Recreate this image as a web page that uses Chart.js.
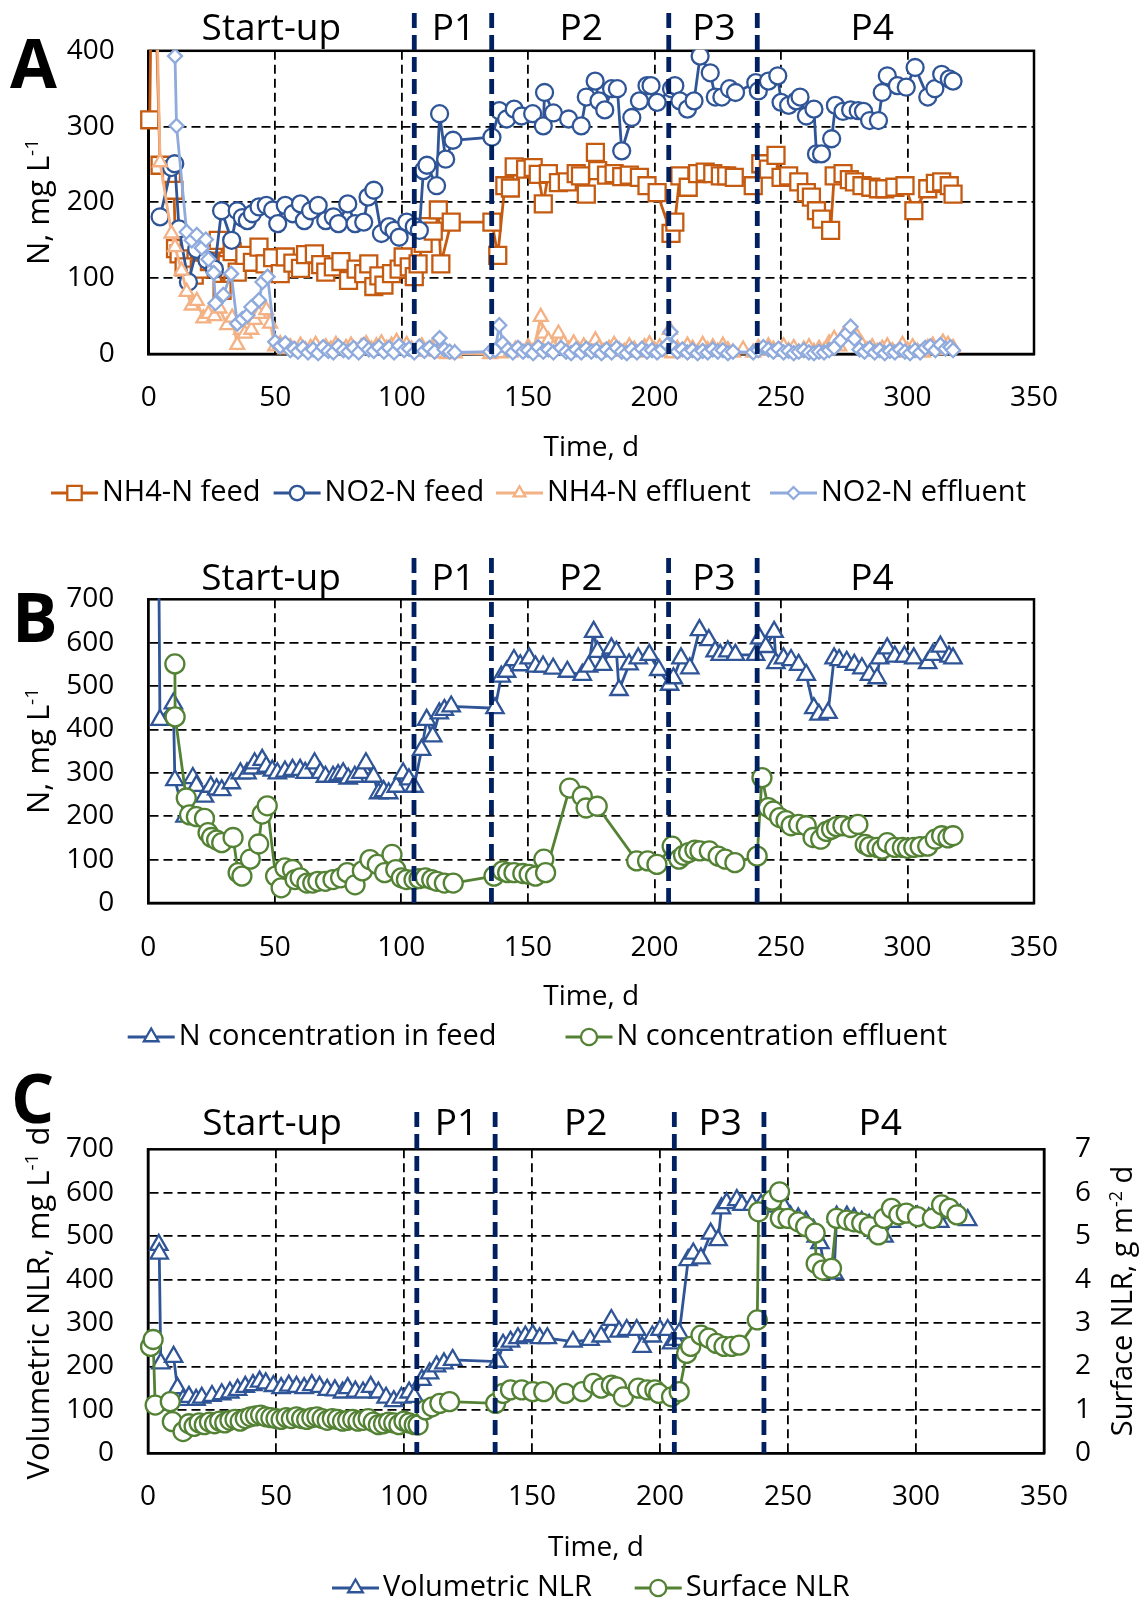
<!DOCTYPE html>
<html lang="en">
<head>
<meta charset="UTF-8">
<title>Nitrogen removal – reactor phases</title>
<script src="https://cdn.jsdelivr.net/npm/chart.js@4.4.1/dist/chart.umd.min.js"></script>
<style>
  html, body { margin: 0; padding: 0; background: #fff; }
  body { width: 1144px; height: 1602px; position: relative; overflow: hidden; }
  canvas { position: absolute; left: 0; }
  #chartA { top: 0; }
  #chartB { top: 530px; }
  #chartC { top: 1060px; }
</style>
</head>
<body>
<canvas id="chartA" width="1144" height="530"></canvas>
<canvas id="chartB" width="1144" height="530"></canvas>
<canvas id="chartC" width="1144" height="542"></canvas>
<script>
// ---- data: [day, value] ----
// A: N species, mg N/L
const nh4Feed = [[0.4,309],[1.5,620],[4.5,249],[9,238],[10,216],[10.6,139],[12,132],[14,115],[16,148],[18,104],[20,112],[22,136],[24,122],[25.5,145],[27.5,150],[29,84],[31,118],[33,135],[35,108],[38,130],[41,121],[43.6,141],[46,119],[49,127],[52,106],[54,128],[57,120],[60,113],[62,131],[65.5,132],[68,118],[70,108],[73,115],[76,122],[79,97],[82,112],[85,106],[87,119],[89,89],[91,103],[93,91],[96,106],[99,112],[100.6,128],[103,115],[105,102],[106.5,119],[108.5,146],[110.5,168],[112.5,162],[114.5,190],[115.5,119],[119.6,174],[135.7,174],[138,130],[140.8,222],[143,219],[144.5,247],[149,244],[152,246],[154,237],[156,198],[158,238],[162,226],[165.5,227],[169,238],[170.7,235],[173,211],[176.6,266],[177.5,242],[181,236],[184,238],[187,234],[190,236],[194,233],[197,222],[201,213],[206.5,159],[208,174],[210,235],[213.3,220],[217,238],[220,240],[223,238],[226,235],[228.5,235],[231.5,233],[239,222],[242,251],[245,244],[248,262],[250,233],[253,235],[257,227],[260,213],[262,207],[264,189],[266,178],[269.6,163],[271,235],[274.5,238],[277,230],[279,227],[282,222],[285.5,220],[288.5,218],[291,218],[295,220],[299,222],[302.5,189],[308,218],[311,225],[313.5,227],[316.5,222],[318,211]];
const no2Feed = [[4.5,181],[9,246],[10.3,251],[12,165],[15.7,95],[19,138],[23,124],[26,112],[28.8,189],[32.8,150],[35,189],[37,180],[39,176],[41,185],[43.6,194],[46.5,196],[49,190],[51,172],[54,196],[57,185],[60,198],[61.5,176],[64,189],[67,196],[70,176],[73,181],[75,172],[78.7,198],[81.6,172],[85,174],[86.7,207],[89,216],[92,159],[95,168],[97,163],[99,154],[102,174],[105,168],[107,163],[108.6,242],[110,249],[113.8,222],[115,317],[117.4,257],[120.3,282],[135.7,286],[138.6,321],[141.5,310],[144.5,323],[147.4,314],[151.8,317],[156,301],[156.5,345],[160,318],[166,310],[171,301],[173,339],[176.5,360],[178,334],[180.3,322],[183,350],[185.3,350],[187,268],[191,312],[194,334],[197,354],[198.6,354],[201,332],[206.7,350],[208,354],[210,334],[213,323],[215.6,334],[218,393],[222,371],[224,339],[226.6,339],[229.6,350],[232,345],[240,358],[241,347],[245,360],[248.7,367],[250,332],[253,328],[256,334],[257.5,339],[260,314],[263,323],[264,264],[266,264],[270,284],[271.5,328],[274.5,320],[277.5,322],[280.5,321],[282.6,320],[285,308],[288.5,308],[290,345],[292,367],[296,354],[299.5,352],[303,378],[308,339],[310.8,350],[313.5,369],[316.5,363],[318,360]];
const nh4Eff = [[3,480],[4.5,253],[9,159],[10.4,141],[13,110],[15,82],[17,64],[19,70],[21.6,47],[23.6,53],[26,50],[28,60],[31,38],[33,48],[35,12],[36.5,32],[38,27],[40.6,32],[42,45],[43.6,53],[46.5,58],[48,40],[50,10],[52,13],[54,6],[56,9],[58,4],[60,11],[62,5],[64,8],[66,12],[68,4],[70,9],[72,6],[74,12],[76,5],[78,8],[80,11],[82,4],[84,9],[86,13],[88,6],[90,10],[92,14],[94,7],[96,11],[98,16],[100,8],[102,12],[104,6],[106,3],[108,10],[110,4],[112,8],[114,3],[116,1],[118,0],[121,1],[135,0],[137,3],[139,1],[141,8],[143,2],[145,6],[147,4],[150,9],[152,3],[155,49],[156,27],[158,18],[160,8],[162,27],[164,14],[166,6],[168,14],[170,5],[172,10],[174,4],[176.6,18],[178,8],[180,3],[182,7],[184,12],[186,5],[188,3],[190,10],[192,6],[194,2],[196,9],[198,13],[200,5],[202,9],[204,3],[206,32],[207,1],[209,7],[211,3],[213,11],[215,7],[217,2],[219,12],[221,5],[223,9],[225,3],[227,11],[229,5],[231,2],[235,6],[239,2],[241,8],[243,4],[245,10],[247,6],[249,3],[251,10],[253,4],[255,8],[257,2],[259,6],[261,9],[263,3],[265,7],[267,4],[269,14],[271,20],[273,10],[275,26],[277.5,34],[280,23],[282,12],[284,5],[286,9],[288,3],[290,7],[292,10],[294,4],[296,2],[298,12],[300,5],[302,9],[304,3],[306,2],[308,8],[310,11],[312,5],[314,15],[316,12],[318,8]];
const no2Eff = [[10.4,393],[11,301],[15,161],[17,150],[19,157],[21,140],[22.6,151],[23.6,125],[25.7,107],[26.4,67],[29.5,78],[32.6,106],[35,40],[37,46],[39,51],[40.6,62],[43.6,71],[45,95],[47,102],[50,16],[52,10],[54,14],[56,5],[57.5,7],[59,3],[61,8],[63,2],[65,6],[67,1],[69,9],[71,4],[73,2],[75,10],[77,5],[79,3],[81,8],[83,2],[85,12],[87,6],[89,4],[91,9],[93,3],[95,8],[97,2],[99,11],[101,5],[103,7],[105,2],[107,10],[109,4],[111,8],[113,3],[115,21],[117,6],[119,3],[121,2],[135,3],[137,5],[138.6,38],[140,14],[142,6],[144,2],[146,8],[148,3],[150,5],[152,1],[154,9],[156,3],[158,6],[160,2],[163,8],[165,3],[167,1],[169,6],[171,2],[173,7],[175,3],[177,5],[179,1],[181,6],[183,2],[185,8],[187,3],[189,1],[191,6],[193,2],[195,7],[197,3],[199,5],[201,2],[203,6],[205,12],[206.3,29],[207.5,8],[209,3],[211,6],[213,2],[215,5],[217,1],[219,4],[221,2],[223,6],[225,3],[227,5],[229,1],[231,3],[239,2],[241,5],[243,9],[245,6],[247,3],[249,7],[251,2],[253,4],[255,1],[257,3],[259,5],[261,2],[263,1],[265,3],[267,2],[269,5],[271,8],[273.6,18],[276,27],[277.5,36],[279,20],[281,6],[283,3],[285,7],[287,2],[289,5],[291,1],[293,4],[295,2],[297,6],[299,3],[301,1],[303,5],[305,2],[307,8],[309,10],[311,5],[313,12],[315,7],[317,9],[318,5]];

// B: total N, mg N/L
const nFeed = [[4,900],[4.6,422],[9.9,460],[10.5,283],[14.5,199],[17.6,288],[19,270],[22.2,245],[24.7,268],[27,262],[29,260],[32.8,276],[36.4,299],[39,299],[41,310],[42,322],[45,330],[46.6,314],[49,305],[51,299],[54,303],[57,307],[60,307],[62,300],[65.7,322],[68,300],[70,291],[73,291],[75,295],[77,299],[79,287],[81.6,291],[84,300],[86,322],[89,291],[91,253],[93,258],[95,253],[98,268],[100.7,299],[103,285],[105,268],[108,353],[110,422],[112.4,384],[115,437],[117,445],[119.7,453],[137,449],[139.5,522],[141.6,533],[144.5,560],[147,548],[150.5,564],[153,545],[156,545],[160,540],[165.6,533],[171.5,526],[174,545],[176,625],[177.5,579],[179.6,549],[183,587],[185,579],[186,491],[190,550],[193.6,564],[198,572],[201.7,537],[206,503],[207.5,518],[210.5,564],[214,541],[217.8,629],[221.5,606],[224,580],[226,572],[229,580],[232,572],[240,572],[241.6,610],[244,590],[247.3,625],[248,553],[251,564],[254,560],[257,549],[260,526],[263,449],[265,434],[268.6,438],[271,564],[273,560],[276,556],[279,549],[282,541],[285,526],[288,518],[289,564],[292,587],[295,568],[298.8,568],[302.5,564],[308,553],[310,572],[313,591],[316.4,568],[318,564]];
const nEff = [[10.5,551],[10.6,429],[15,242],[16.3,203],[19,199],[22.2,195],[23.6,162],[25,151],[27,145],[29,139],[33.5,151],[35.5,70],[37,62],[40.3,101],[43.6,136],[45,205],[47,224],[50.3,62],[52.5,35],[54,81],[57,77],[58,54],[60,58],[62.7,46],[65,46],[67,50],[70,50],[73,54],[76,58],[78.6,70],[81.7,42],[84.6,74],[87.6,100],[90.5,89],[93.4,70],[96.3,112],[97.8,77],[100,58],[102,54],[105,54],[107,56],[109.5,58],[112,54],[114,50],[117,46],[120.5,46],[136.6,62],[140,74],[142,70],[144.5,70],[148,68],[150.5,66],[153,62],[156.3,101],[157,70],[166.5,265],[171.5,246],[173,219],[177.4,223],[193,97],[197.3,97],[201,89],[207,131],[209.7,101],[211.5,110],[213.5,116],[216,122],[218,120],[221.7,120],[225.2,108],[228,101],[231.8,93],[240.6,108],[242.5,289],[245,220],[247,212],[249.5,197],[252,190],[254,178],[257,181],[260,178],[262.7,151],[265.7,147],[268,165],[270,170],[272,176],[274.5,178],[277.5,174],[280.4,181],[283.3,135],[285,130],[288,128],[290,124],[292,139],[295,128],[298,128],[300,126],[302.5,128],[305,130],[308,131],[311,147],[313.5,155],[316,150],[318,155]];

// C: nitrogen loading rates
const volNLR = [[4.2,480],[4.4,460],[5,207],[10,222],[11.5,150],[13.7,123],[16,130],[18.8,123],[21,128],[25,132],[28.8,136],[32,140],[35,146],[38,153],[41,157],[43.6,165],[46,161],[49,155],[52,150],[55,156],[58,153],[61,150],[64,157],[67,153],[70,146],[73,145],[76,140],[78,150],[81,142],[84,140],[87,153],[90,140],[93,128],[96,120],[99,128],[102,140],[104,130],[107,169],[110,184],[112.7,200],[115.6,207],[119,215],[136.6,211],[138.7,250],[141.6,257],[144.5,265],[147.4,269],[150.3,272],[153,265],[156,265],[166,257],[172.7,261],[177,269],[181,307],[184,280],[187,284],[190.9,284],[193,245],[197,269],[200,284],[203,284],[204.5,253],[206,261],[207.5,276],[211,445],[213,460],[216,449],[219.8,506],[222.7,491],[224,564],[226,576],[230,583],[232,572],[236,572],[239.5,572],[242.4,568],[245.3,587],[248,572],[251,545],[254,541],[257,533],[260,514],[261,499],[262.5,484],[264.6,418],[268,414],[269,545],[273,545],[275.8,541],[278.8,533],[281.7,526],[284.6,507],[287.5,499],[290.4,533],[293.3,545],[296.2,545],[300.6,545],[305,541],[309.3,533],[313,553],[317.3,549],[320.2,537]];
const surfNLR = [[1,2.46],[2,2.62],[2.8,1.11],[8.7,1.19],[9.5,0.73],[13.7,0.50],[16,0.68],[18,0.62],[20,0.70],[22,0.66],[24,0.72],[26,0.68],[28,0.74],[30,0.70],[32,0.76],[34,0.78],[36,0.74],[38,0.80],[40,0.84],[42,0.86],[44,0.88],[46,0.84],[48,0.82],[50,0.80],[52,0.78],[54,0.82],[56,0.80],[58,0.84],[60,0.80],[62,0.78],[64,0.82],[66,0.84],[68,0.80],[70,0.76],[72,0.80],[74,0.78],[76,0.74],[78,0.76],[80,0.78],[82,0.74],[84,0.76],[86,0.80],[88,0.72],[90,0.66],[92,0.68],[94,0.72],[96,0.70],[98,0.66],[100,0.74],[102,0.70],[104,0.66],[105.5,0.65],[108.4,1.0],[111,1.07],[114,1.15],[117.8,1.19],[135.8,1.15],[138.7,1.38],[141.6,1.46],[146,1.46],[150.3,1.42],[154.6,1.42],[163,1.38],[169.7,1.42],[174,1.61],[177,1.50],[181,1.57],[183,1.53],[185.7,1.30],[191.5,1.50],[195,1.46],[198,1.46],[199.5,1.38],[204.5,1.30],[207.5,1.42],[210.4,2.30],[212,2.46],[216,2.72],[219,2.65],[222,2.53],[225,2.46],[228,2.46],[231,2.49],[238,3.07],[238.5,5.56],[243.8,5.83],[246.7,6.02],[247,5.41],[250,5.41],[254,5.33],[256.9,5.22],[260.6,5.07],[261,4.37],[263.5,4.22],[267,4.26],[269,5.41],[273,5.37],[275.8,5.33],[278.8,5.30],[281.7,5.22],[285.3,5.03],[287.5,5.41],[290.4,5.64],[293.3,5.49],[296.2,5.53],[300.6,5.45],[306.4,5.41],[310,5.72],[313,5.64],[316,5.49]];

// operating phases
const phaseBounds = [105, 135.6, 205.6, 240.6];
const phaseNames = ['Start-up', 'P1', 'P2', 'P3', 'P4'];
const phaseCentres = [48.5, 120.5, 171, 223.5, 286];

const ORANGE = '#C55A11', BLUE = '#2F5597', LIGHT_ORANGE = '#F4B183',
      LIGHT_BLUE = '#8FAADC', GREEN = '#548235', NAVY = '#002060';
const FONT = '"Open Sans", sans-serif';

Chart.defaults.font.family = FONT;
Chart.defaults.color = '#000';

function series(label, pairs, color, style, radius, order, extra) {
  return Object.assign({
    label: label,
    data: pairs.map(p => ({x: p[0], y: p[1]})),
    showLine: true,
    order: order,
    borderColor: color,
    backgroundColor: '#fff',
    borderWidth: 2.8,
    pointStyle: style,
    pointRadius: radius,
    pointHoverRadius: radius,
    pointBorderColor: color,
    pointBackgroundColor: '#fff',
    pointBorderWidth: 2.3,
    clip: {left: 14, right: 14, top: 1, bottom: 14}
  }, extra || {});
}

function gridColor(max) {
  return c => (c.tick && c.tick.value > 0 && c.tick.value < max) ? '#000' : 'rgba(0,0,0,0)';
}

function xAxis(p) {
  return {
    type: 'linear', min: 0, max: 350,
    ticks: {stepSize: 50, padding: p.xTickPad, font: {size: 28}, maxRotation: 0, autoSkip: false},
    grid: {drawTicks: false, lineWidth: 1.8, color: gridColor(350)},
    border: {display: true, color: '#000', width: 2.5, dash: [9, 5]},
    title: {display: true, text: 'Time, d', font: {size: 28}, padding: {top: 0, bottom: p.xTitlePad}},
    afterFit: s => { s.height = p.xHeight; }
  };
}

function yAxis(max, step, width, position, showGrid) {
  return {
    type: 'linear', position: position, min: 0, max: max,
    ticks: {stepSize: step, padding: position === 'right' ? 31 : 34, font: {size: 28}},
    grid: {drawTicks: false, lineWidth: 1.8, color: gridColor(max), drawOnChartArea: showGrid},
    border: {display: true, color: '#000', width: 2.5, dash: [9, 5]},
    afterFit: s => { s.width = width; }
  };
}

// rotated axis title with superscripts
function drawVertical(ctx, parts, baseX, cy, size) {
  ctx.save();
  ctx.translate(baseX, cy);
  ctx.rotate(-Math.PI / 2);
  const big = size + 'px ' + FONT, small = Math.round(size * 0.62) + 'px ' + FONT;
  let total = 0;
  parts.forEach(p => { ctx.font = p.sup ? small : big; p.w = ctx.measureText(p.t).width; total += p.w; });
  let x = -total / 2;
  ctx.fillStyle = '#000';
  ctx.textBaseline = 'alphabetic';
  ctx.textAlign = 'left';
  parts.forEach(p => {
    ctx.font = p.sup ? small : big;
    ctx.fillText(p.t, x, p.sup ? -size * 0.36 : 0);
    x += p.w;
  });
  ctx.restore();
}

const panelDecor = {
  id: 'panelDecor',
  beforeDatasetsDraw(chart) {
    const a = chart.chartArea, ctx = chart.ctx;
    ctx.save();
    ctx.strokeStyle = '#000';
    ctx.lineWidth = 2.5;
    ctx.strokeRect(a.left, a.top, a.right - a.left, a.bottom - a.top);
    ctx.restore();
  },
  afterDatasetsDraw(chart, args, o) {
    const a = chart.chartArea, ctx = chart.ctx, xs = chart.scales.x;
    ctx.save();
    ctx.strokeStyle = NAVY;
    ctx.lineWidth = 4.8;
    ctx.setLineDash([15, 7]);
    phaseBounds.forEach(d => {
      const px = xs.getPixelForValue(d);
      ctx.beginPath();
      ctx.moveTo(px, o.phaseTop);
      ctx.lineTo(px, a.bottom);
      ctx.stroke();
    });
    ctx.restore();
  },
  afterDraw(chart, args, o) {
    const ctx = chart.ctx, xs = chart.scales.x;
    // axis titles
    o.yTitles.forEach(t => drawVertical(ctx, t.parts, t.x, t.y, t.size));
    ctx.save();
    // phase names
    ctx.fillStyle = '#000';
    ctx.font = '37px ' + FONT;
    ctx.textAlign = 'center';
    ctx.textBaseline = 'alphabetic';
    phaseNames.forEach((n, i) => ctx.fillText(n, xs.getPixelForValue(phaseCentres[i]), o.phaseLabelY));
    // panel letter
    ctx.font = 'bold 68px ' + FONT;
    ctx.textAlign = 'left';
    ctx.fillText(o.letter, o.letterX, o.letterY);
    ctx.restore();
    // legend
    ctx.save();
    o.legendX.forEach((lx, i) => {
      const ds = chart.data.datasets[i], y = o.legendY;
      ctx.setLineDash([]);
      ctx.strokeStyle = ds.borderColor;
      ctx.lineWidth = 2.8;
      ctx.beginPath();
      ctx.moveTo(lx, y);
      ctx.lineTo(lx + 47, y);
      ctx.stroke();
      ctx.fillStyle = '#fff';
      ctx.lineWidth = 2.3;
      Chart.helpers.drawPoint(ctx, {pointStyle: ds.pointStyle, radius: ds.pointRadius * 0.85, borderWidth: 2.3, rotation: 0}, lx + 23.5, y);
      ctx.fillStyle = '#000';
      ctx.font = '29px ' + FONT;
      ctx.textAlign = 'left';
      ctx.textBaseline = 'middle';
      ctx.fillText(ds.label, lx + 51, y);
    });
    ctx.restore();
  }
};

function makeChart(id, p, datasets, scales) {
  return new Chart(document.getElementById(id), {
    type: 'scatter',
    data: {datasets: datasets},
    options: {
      responsive: false,
      animation: false,
      devicePixelRatio: 1,
      events: [],
      layout: {padding: {top: p.padTop, right: p.padRight, left: 0, bottom: 0}},
      scales: scales,
      plugins: {
        legend: {display: false},
        tooltip: {enabled: false},
        panelDecor: p.decor
      }
    },
    plugins: [panelDecor]
  });
}

// Panel A
const pA = {padTop: 50, padRight: 110, xHeight: 176, xTickPad: 27, xTitlePad: 65,
  decor: {letter: 'A', letterX: 10, letterY: 88, phaseTop: 13, phaseLabelY: 40,
    yTitles: [{parts: [{t: 'N, mg L'}, {t: '-1', sup: true}], x: 49, y: 202, size: 31}],
    legendY: 493, legendX: [51, 273.6, 496, 770]}};
makeChart('chartA', pA, [
  series('NH4-N feed', nh4Feed, ORANGE, 'rect', 12, 4),
  series('NO2-N feed', no2Feed, BLUE, 'circle', 8.5, 3),
  series('NH4-N effluent', nh4Eff, LIGHT_ORANGE, 'triangle', 8, 2),
  series('NO2-N effluent', no2Eff, LIGHT_BLUE, 'rectRot', 7, 1)
], {x: xAxis(pA), y: yAxis(400, 100, 148.7, 'left', true)});

// Panel B
const pB = {padTop: 69.3, padRight: 110, xHeight: 157, xTickPad: 28, xTitlePad: 46,
  decor: {letter: 'B', letterX: 12, letterY: 112, phaseTop: 28, phaseLabelY: 60,
    yTitles: [{parts: [{t: 'N, mg L'}, {t: '-1', sup: true}], x: 49, y: 221, size: 31}],
    legendY: 507, legendX: [127.7, 565.5]}};
makeChart('chartB', pB, [
  series('N concentration in feed', nFeed, BLUE, 'triangle', 10, 2),
  series('N concentration effluent', nEff, GREEN, 'circle', 9.5, 1)
], {x: xAxis(pB), y: yAxis(700, 100, 148.3, 'left', true)});

// Panel C
const pC = {padTop: 89.3, padRight: 0, xHeight: 148.7, xTickPad: 27, xTitlePad: 37,
  decor: {letter: 'C', letterX: 11, letterY: 63, phaseTop: 52, phaseLabelY: 75,
    yTitles: [
      {parts: [{t: 'Volumetric NLR, mg L'}, {t: '-1', sup: true}, {t: ' d'}], x: 49, y: 243, size: 31},
      {parts: [{t: 'Surface NLR, g m'}, {t: '-2', sup: true}, {t: ' d'}], x: 1132, y: 241, size: 29}
    ],
    legendY: 528, legendX: [332, 634.7]}};
makeChart('chartC', pC, [
  series('Volumetric NLR', volNLR, BLUE, 'triangle', 10, 2, {yAxisID: 'y'}),
  series('Surface NLR', surfNLR, GREEN, 'circle', 9.5, 1, {yAxisID: 'y2'})
], {x: xAxis(pC), y: yAxis(700, 100, 148, 'left', true), y2: yAxis(7, 1, 100, 'right', false)});
</script>
</body>
</html>
